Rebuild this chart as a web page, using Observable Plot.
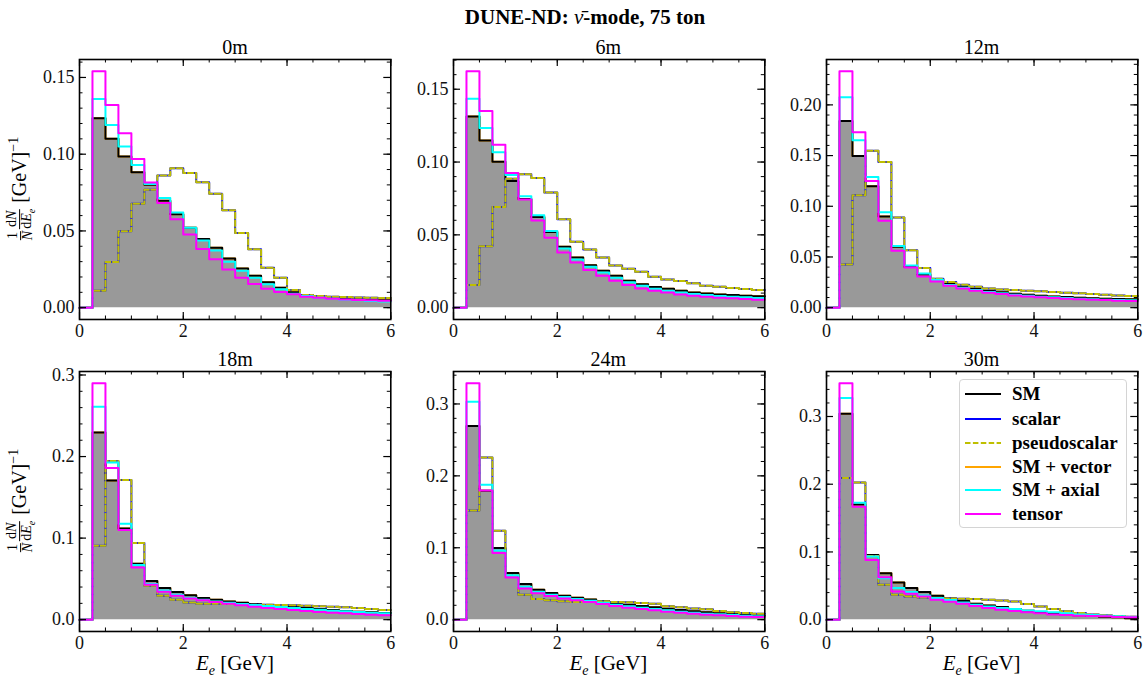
<!DOCTYPE html>
<html><head><meta charset="utf-8">
<script src="https://cdn.jsdelivr.net/npm/d3@7"></script>
<script src="https://cdn.jsdelivr.net/npm/@observablehq/plot@0.6"></script>
<style>
body{margin:0;background:#fff;}
#fig{position:relative;width:1148px;height:684px;font-family:"Liberation Serif",serif;color:#000;overflow:hidden;}
.abs{position:absolute;white-space:nowrap;}
.frac{display:inline-flex;flex-direction:column;vertical-align:middle;text-align:center;font-size:14px;line-height:1.0;margin:0 1px;}
.frac .num{border-bottom:1px solid #000;padding:0 1px;}
.leg{position:absolute;left:959px;top:379px;width:168px;height:149px;border:1px solid #d4d4d4;border-radius:4px;background:rgba(255,255,255,0.85);box-sizing:border-box;}
.row{position:absolute;left:5px;height:22px;display:flex;align-items:center;font-weight:bold;font-size:19px;}
.row svg{margin-right:11px;}
svg text{font-family:"Liberation Serif",serif;}
</style></head><body><div id="fig"></div><script>
// ---- bin edges (GeV) ----
const binEdges = [0,0.25,0.5,0.75,1,1.25,1.5,1.75,2,2.25,2.5,2.75,3,3.25,3.5,3.75,4,4.25,4.5,4.75,5,5.25,5.5,5.75,6];
const xMajor = [0,2,4,6];
const panelNames = ["0m","6m","12m","18m","24m","30m"];
const seriesNames = ["SM","scalar","pseudoscalar","SM + vector","SM + axial","tensor"];
const seriesColors = ["#000000","#0000ff","#bfbf00","#ffa500","#00ffff","#ff00ff"];

// ---- 0m ----
const sm_0m     = [0,0.1234,0.110,0.0985,0.0883,0.0801,0.0697,0.0608,0.052,0.0448,0.039,0.032,0.0255,0.0208,0.0165,0.013,0.010,0.0082,0.0071,0.0065,0.0058,0.0054,0.005,0.0048];
const axial_0m  = [0,0.136,0.119,0.105,0.093,0.0805,0.0714,0.062,0.052,0.0437,0.0372,0.030,0.024,0.0195,0.0152,0.012,0.009,0.0076,0.0065,0.0058,0.0052,0.0048,0.0043,0.0041];
const tensor_0m = [0,0.154,0.132,0.1136,0.0968,0.0816,0.0682,0.0576,0.0476,0.0383,0.0316,0.0249,0.0195,0.0154,0.0123,0.0102,0.0087,0.0071,0.0065,0.0058,0.0054,0.005,0.0048,0.0045];
const pseudo_0m = [0,0.011,0.0297,0.0498,0.0677,0.0768,0.0861,0.0909,0.0877,0.0818,0.0742,0.0634,0.0487,0.0381,0.026,0.0195,0.0115,0.0082,0.0076,0.0071,0.0069,0.0067,0.0065,0.0063];
// ---- 6m ----
const sm_6m     = [0,0.1313,0.1148,0.1002,0.087,0.0747,0.0623,0.052,0.0418,0.0345,0.0292,0.0253,0.0219,0.0185,0.016,0.0142,0.013,0.0116,0.0105,0.0098,0.0091,0.0087,0.0082,0.0078];
const axial_6m  = [0,0.1434,0.1233,0.1068,0.0911,0.0765,0.0635,0.0527,0.0406,0.0331,0.0281,0.0242,0.0205,0.0174,0.0151,0.013,0.0116,0.0105,0.0094,0.0087,0.008,0.0075,0.0071,0.0066];
const tensor_6m = [0,0.1623,0.135,0.1119,0.0925,0.0742,0.0598,0.048,0.0379,0.031,0.0258,0.0219,0.0185,0.0155,0.0132,0.0116,0.0105,0.0091,0.0082,0.0075,0.0068,0.0064,0.0059,0.0055];
const pseudo_6m = [0,0.0155,0.0422,0.0692,0.0886,0.0916,0.089,0.079,0.0607,0.0452,0.040,0.0345,0.029,0.0267,0.0247,0.0212,0.0194,0.0183,0.0167,0.0151,0.0144,0.0135,0.0128,0.0121];
// ---- 12m ----
const sm_12m     = [0,0.184,0.1495,0.1197,0.0898,0.060,0.0403,0.0328,0.0282,0.0233,0.0207,0.0184,0.0167,0.0151,0.0138,0.0128,0.0118,0.0111,0.0105,0.0098,0.0092,0.0089,0.0085,0.0082];
const axial_12m  = [0,0.2075,0.165,0.1289,0.0941,0.0607,0.0416,0.0338,0.0275,0.0223,0.0197,0.0174,0.0154,0.0141,0.0128,0.0118,0.0108,0.0102,0.0095,0.0089,0.0082,0.0079,0.0075,0.0072];
const tensor_12m = [0,0.2331,0.1731,0.1249,0.0856,0.0561,0.0397,0.0308,0.0259,0.0216,0.019,0.0167,0.0148,0.0134,0.0121,0.0111,0.0102,0.0095,0.0089,0.0082,0.0079,0.0075,0.0069,0.0066];
const pseudo_12m = [0,0.0426,0.1108,0.1548,0.1436,0.0889,0.0567,0.039,0.0285,0.0252,0.0226,0.0207,0.019,0.018,0.0174,0.0167,0.0161,0.0154,0.0148,0.0141,0.0134,0.0128,0.0121,0.0115];
// ---- 18m ----
const sm_18m     = [0,0.2294,0.1706,0.1118,0.0686,0.0473,0.0388,0.0339,0.0298,0.0265,0.0245,0.0224,0.0208,0.0192,0.018,0.0167,0.0155,0.0143,0.0131,0.0118,0.0106,0.0098,0.009,0.0082];
const axial_18m  = [0,0.2612,0.1927,0.1176,0.0669,0.0437,0.0359,0.0306,0.0269,0.0245,0.0224,0.0208,0.0192,0.018,0.0167,0.0155,0.0143,0.0131,0.0122,0.011,0.0102,0.0094,0.0086,0.0078];
const tensor_18m = [0,0.2898,0.1861,0.1098,0.0641,0.0429,0.0343,0.0294,0.0261,0.0237,0.0216,0.0196,0.0176,0.0159,0.0143,0.0131,0.0118,0.0106,0.0094,0.0086,0.0078,0.0069,0.0061,0.0053];
const pseudo_18m = [0,0.0906,0.1947,0.1714,0.0939,0.0416,0.0294,0.0245,0.0212,0.0196,0.0196,0.0192,0.0188,0.0184,0.0184,0.018,0.0176,0.0171,0.0163,0.0159,0.0151,0.0143,0.0131,0.0118];
// ---- 24m ----
const sm_24m     = [0,0.2694,0.1792,0.0995,0.0648,0.0495,0.0417,0.037,0.0333,0.0306,0.0282,0.0259,0.0231,0.0208,0.019,0.0171,0.0153,0.0134,0.0116,0.0102,0.0088,0.0079,0.0065,0.0056];
const axial_24m  = [0,0.3032,0.1875,0.0963,0.0616,0.0458,0.0389,0.0347,0.0315,0.0287,0.0264,0.0236,0.0208,0.0185,0.0167,0.0148,0.013,0.0111,0.0097,0.0083,0.0074,0.0065,0.0056,0.0046];
const tensor_24m = [0,0.3287,0.1796,0.0926,0.0588,0.0435,0.0366,0.0329,0.0296,0.0269,0.0245,0.0218,0.019,0.0167,0.0148,0.013,0.0111,0.0097,0.0083,0.0069,0.006,0.0051,0.0042,0.0037];
const pseudo_24m = [0,0.1519,0.2255,0.1236,0.062,0.0347,0.0287,0.0269,0.0255,0.0245,0.0245,0.0255,0.0245,0.0241,0.0231,0.0222,0.0185,0.0171,0.0157,0.0144,0.012,0.0102,0.0093,0.0083];
// ---- 30m ----
const sm_30m     = [0,0.304,0.170,0.0956,0.0686,0.0549,0.0466,0.0407,0.0353,0.0314,0.0275,0.0235,0.0211,0.0186,0.0157,0.0132,0.0113,0.0093,0.0078,0.0064,0.0054,0.0044,0.0034,0.002];
const axial_30m  = [0,0.3275,0.1725,0.0931,0.0613,0.0466,0.0407,0.0358,0.0319,0.0289,0.0255,0.0221,0.0196,0.0172,0.0157,0.0137,0.0123,0.0108,0.0093,0.0078,0.0069,0.0059,0.0049,0.0039];
const tensor_30m = [0,0.349,0.1667,0.0882,0.0627,0.0417,0.0382,0.0343,0.0294,0.0265,0.0235,0.0201,0.0172,0.0147,0.0127,0.0108,0.0093,0.0078,0.0069,0.0059,0.0054,0.0049,0.0039,0.0034];
const pseudo_30m = [0,0.2093,0.2025,0.094,0.0515,0.0368,0.0343,0.0328,0.0319,0.0314,0.0309,0.0304,0.0294,0.0284,0.027,0.023,0.0196,0.0157,0.0123,0.0098,0.0078,0.0064,0.0054,0.0044];

// scalar overlaps pseudoscalar, SM + vector overlaps SM in every panel
const panels = [
  {name:"0m",  sm:sm_0m,  vector:sm_0m,  scalar:pseudo_0m,  pseudo:pseudo_0m,  axial:axial_0m,  tensor:tensor_0m,  yMajor:[0,0.05,0.10,0.15], yMinorStep:0.01, fmt:".2f"},
  {name:"6m",  sm:sm_6m,  vector:sm_6m,  scalar:pseudo_6m,  pseudo:pseudo_6m,  axial:axial_6m,  tensor:tensor_6m,  yMajor:[0,0.05,0.10,0.15], yMinorStep:0.01, fmt:".2f"},
  {name:"12m", sm:sm_12m, vector:sm_12m, scalar:pseudo_12m, pseudo:pseudo_12m, axial:axial_12m, tensor:tensor_12m, yMajor:[0,0.05,0.10,0.15,0.20], yMinorStep:0.01, fmt:".2f"},
  {name:"18m", sm:sm_18m, vector:sm_18m, scalar:pseudo_18m, pseudo:pseudo_18m, axial:axial_18m, tensor:tensor_18m, yMajor:[0,0.1,0.2,0.3], yMinorStep:0.02, fmt:".1f"},
  {name:"24m", sm:sm_24m, vector:sm_24m, scalar:pseudo_24m, pseudo:pseudo_24m, axial:axial_24m, tensor:tensor_24m, yMajor:[0,0.1,0.2,0.3], yMinorStep:0.02, fmt:".1f"},
  {name:"30m", sm:sm_30m, vector:sm_30m, scalar:pseudo_30m, pseudo:pseudo_30m, axial:axial_30m, tensor:tensor_30m, yMajor:[0,0.1,0.2,0.3], yMinorStep:0.02, fmt:".1f"}
];

const fig = document.getElementById("fig");
const FW = 311.3, FH = 260;
const frameLefts = [79.3, 452.7, 826];
const frameTops = [59.3, 371.3];
const mL = 50, mR = 8, mT = 8, mB = 30;
const FONT = "Liberation Serif";

function steps(vals) {
  return binEdges.map((x, i) => ({x, y: vals[Math.min(i, vals.length - 1)]}));
}

panels.forEach((p, k) => {
  const col = k % 3, row = Math.floor(k / 3);
  const ymax = d3.max([p.sm, p.vector, p.scalar, p.pseudo, p.axial, p.tensor].flat());
  const y0 = -0.05 * ymax, y1 = 1.05 * ymax;
  const yMinor = d3.range(0, y1, p.yMinorStep);
  const xMinor = d3.range(0, 6.0001, 0.5);
  const lw = 2;
  const svg = Plot.plot({
    width: FW + mL + mR, height: FH + mT + mB,
    marginLeft: mL, marginRight: mR, marginTop: mT, marginBottom: mB,
    x: {domain: [0, 6]},
    y: {domain: [y0, y1]},
    style: {fontFamily: FONT, fontSize: "18px", background: "transparent", overflow: "visible", color: "#000"},
    marks: [
      Plot.areaY(steps(p.sm), {x: "x", y: "y", curve: "step-after", fill: "#999999"}),
      Plot.line(steps(p.vector), {x: "x", y: "y", curve: "step-after", stroke: seriesColors[3], strokeWidth: lw}),
      Plot.line(steps(p.sm), {x: "x", y: "y", curve: "step-after", stroke: seriesColors[0], strokeWidth: lw}),
      Plot.line(steps(p.scalar), {x: "x", y: "y", curve: "step-after", stroke: seriesColors[1], strokeWidth: lw}),
      Plot.line(steps(p.pseudo), {x: "x", y: "y", curve: "step-after", stroke: seriesColors[2], strokeWidth: lw, strokeDasharray: "5.5,2.4"}),
      Plot.line(steps(p.axial), {x: "x", y: "y", curve: "step-after", stroke: seriesColors[4], strokeWidth: lw}),
      Plot.line(steps(p.tensor), {x: "x", y: "y", curve: "step-after", stroke: seriesColors[5], strokeWidth: lw}),
      // inward ticks on all four sides
      Plot.tickX(xMinor, {x: d => d, stroke: "black", strokeWidth: 1, insetTop: FH - 3.5}),
      Plot.tickX(xMinor, {x: d => d, stroke: "black", strokeWidth: 1, insetBottom: FH - 3.5}),
      Plot.tickX(xMajor, {x: d => d, stroke: "black", strokeWidth: 1.2, insetTop: FH - 7}),
      Plot.tickX(xMajor, {x: d => d, stroke: "black", strokeWidth: 1.2, insetBottom: FH - 7}),
      Plot.tickY(yMinor, {y: d => d, stroke: "black", strokeWidth: 1, insetRight: FW - 3.5}),
      Plot.tickY(yMinor, {y: d => d, stroke: "black", strokeWidth: 1, insetLeft: FW - 3.5}),
      Plot.tickY(p.yMajor, {y: d => d, stroke: "black", strokeWidth: 1.2, insetRight: FW - 7}),
      Plot.tickY(p.yMajor, {y: d => d, stroke: "black", strokeWidth: 1.2, insetLeft: FW - 7}),
      Plot.axisX(xMajor, {tickSize: 0, tickPadding: 5, tickFormat: d => String(d), label: null, fontSize: 18, fontFamily: FONT, fill: "#111"}),
      Plot.axisY(p.yMajor, {tickSize: 0, tickPadding: 5, tickFormat: d3.format(p.fmt), label: null, fontSize: 18, fontFamily: FONT, fill: "#111"}),
      Plot.frame({stroke: "black", strokeWidth: 1.6})
    ]
  });
  svg.style.position = "absolute";
  svg.style.left = (frameLefts[col] - mL) + "px";
  svg.style.top = (frameTops[row] - mT) + "px";
  fig.appendChild(svg);

  const t = document.createElement("div");
  t.className = "abs";
  t.style.cssText = `left:${frameLefts[col] + FW / 2}px;top:${frameTops[row] - 12}px;transform:translate(-50%,-50%);font-size:20px;`;
  t.textContent = p.name;
  fig.appendChild(t);

  if (col === 0) {
    const yl = document.createElement("div");
    yl.className = "abs";
    yl.style.cssText = `left:21px;top:${frameTops[row] + FH / 2}px;transform:translate(-50%,-50%) rotate(-90deg);font-size:20px;line-height:1;`;
    yl.innerHTML = `<span class="frac"><span class="num">1</span><span><i>N</i></span></span><span class="frac"><span class="num">d<i>N</i></span><span>d<i>E<sub style="font-size:10px">e</sub></i></span></span> [GeV]<sup style="font-size:14px">−1</sup>`;
    fig.appendChild(yl);
  }
  if (row === 1) {
    const xl = document.createElement("div");
    xl.className = "abs";
    xl.style.cssText = `left:${frameLefts[col] + FW / 2}px;top:665px;transform:translate(-50%,-50%);font-size:21px;`;
    xl.innerHTML = `<i>E<sub style="font-size:14px">e</sub></i> [GeV]`;
    fig.appendChild(xl);
  }
});

// title
const title = document.createElement("div");
title.className = "abs";
title.style.cssText = "left:585px;top:17px;transform:translate(-50%,-50%);font-size:21px;font-weight:bold;";
title.innerHTML = "DUNE-ND: <i style='font-weight:normal'>ν̄</i>-mode, 75 ton";
fig.appendChild(title);

// legend
const leg = document.createElement("div");
leg.className = "leg";
const rowTops = [14, 39, 63, 87, 110, 134];
seriesNames.forEach((n, i) => {
  const r = document.createElement("div");
  r.className = "row";
  r.style.top = (rowTops[i] - 11) + "px";
  const dash = i === 2 ? "stroke-dasharray='5.5,2.4'" : "";
  r.innerHTML = `<svg width="36" height="6"><line x1="0" y1="3" x2="36" y2="3" stroke="${seriesColors[i]}" stroke-width="2" ${dash}/></svg><span>${n}</span>`;
  leg.appendChild(r);
});
fig.appendChild(leg);
</script></body></html>
